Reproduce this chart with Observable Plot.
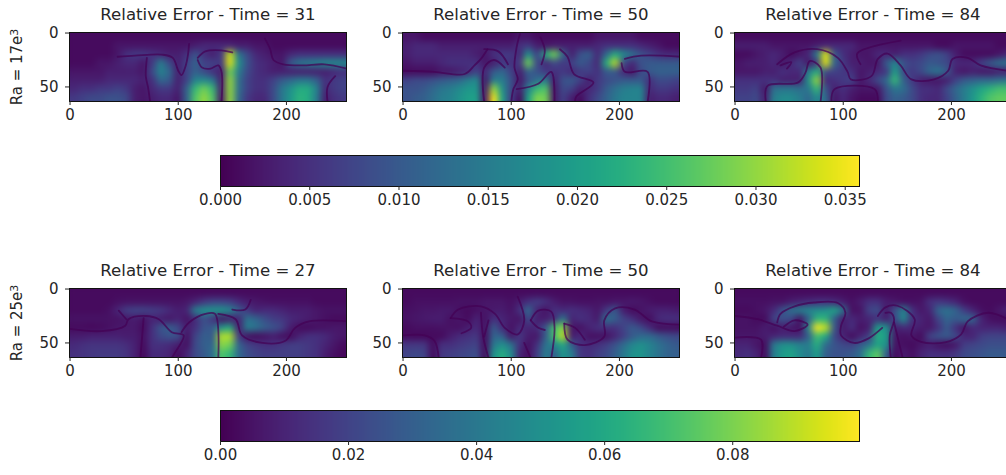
<!DOCTYPE html>
<html><head><meta charset="utf-8">
<script src="https://cdn.jsdelivr.net/npm/d3@7"></script>
<script src="https://cdn.jsdelivr.net/npm/@observablehq/plot@0.6"></script>
<style>
html,body{margin:0;padding:0;background:#fff;overflow:hidden}
#root{position:relative;width:1006px;height:475px;overflow:hidden}
#root svg{position:absolute;overflow:visible;background:transparent}
.soft image{filter:blur(2.2px)}
.zero path{filter:blur(0.6px)}
</style></head><body><div id="root"></div>
<script>
const errorA = [
[1,1,1,1,1,1,1,1,1,1,1,1,1,1,1,1,1,1,1,1,1,1,1,1,1,1,1,1,1,1,1,1],
[1,1,1,1,1,2,2,2,2,2,2,2,2,2,3,4,4,4,4,3,3,2,2,1,1,1,1,1,1,1,1,1],
[1,1,1,1,1,2,5,6,6,5,4,3,3,5,9,5,3,6,33,14,8,4,3,2,2,4,5,5,5,5,5,5],
[1,1,1,2,2,3,4,4,2,6,15,8,3,7,11,7,7,6,34,18,9,5,4,3,2,10,14,15,16,17,17,17],
[2,2,2,2,3,3,3,3,2,8,16,12,3,7,11,8,5,3,28,15,8,5,4,3,3,3,3,3,3,3,4,5],
[3,3,3,3,4,4,4,4,3,5,12,10,3,7,16,17,14,3,30,13,7,5,5,7,10,12,14,14,11,5,6,7],
[4,5,5,6,6,7,6,3,2,4,6,6,3,11,24,28,24,3,30,13,7,5,5,8,14,18,22,22,16,4,6,7],
[6,7,8,8,9,9,8,3,2,3,4,4,2,11,26,30,26,2,30,12,6,4,4,8,14,19,23,22,15,3,5,6]];
const errorB = [
[2,2,1,1,1,1,1,1,1,1,1,1,1,2,2,1,1,1,1,1,1,1,2,2,2,2,2,1,1,1,1,1],
[3,4,4,4,3,3,3,3,3,3,3,3,3,5,6,3,2,3,3,3,3,3,4,5,5,5,5,4,3,2,1,1],
[3,4,4,4,4,4,4,4,3,2,5,6,6,4,18,7,22,28,12,3,9,11,4,12,22,17,13,9,7,5,4,4],
[2,3,3,3,4,5,5,5,5,2,3,6,5,6,28,8,4,8,6,7,10,8,4,22,32,8,4,9,10,10,10,10],
[1,1,1,1,2,2,3,4,7,4,10,12,7,3,11,9,6,5,6,4,6,7,5,10,10,4,2,8,10,11,11,11],
[7,8,8,9,10,11,12,15,17,2,15,15,9,2,9,13,15,3,9,10,7,3,6,8,9,10,10,10,5,8,8,7],
[9,9,10,12,14,15,17,19,19,2,30,18,8,3,16,24,26,2,8,7,3,4,6,10,13,15,16,16,4,6,6,5],
[9,10,11,13,15,16,18,20,20,2,35,20,7,1,20,29,28,2,7,3,1,5,8,11,14,16,16,16,3,4,4,3]];
const errorC = [
[1,1,1,1,1,1,1,1,1,1,1,1,1,1,1,1,1,1,1,1,1,1,1,1,1,1,1,1,1,1,1,1],
[3,3,3,3,2,2,2,2,2,3,4,4,4,4,2,2,2,2,2,2,2,2,2,1,1,2,2,2,2,2,1,1],
[1,1,2,3,4,3,1,2,4,15,34,10,5,3,2,2,4,4,3,5,5,6,8,9,7,3,1,1,1,1,2,4],
[2,3,3,3,4,2,4,7,2,6,34,12,6,3,3,2,2,10,16,9,7,8,10,9,8,4,4,4,7,10,13,14],
[2,2,2,3,3,5,4,4,15,22,8,7,6,5,2,3,4,6,20,8,6,8,12,14,10,3,2,3,2,2,3,3],
[5,5,5,5,5,3,3,3,18,30,4,5,6,7,2,4,8,12,24,11,6,3,2,2,3,7,10,11,12,12,13,14],
[6,6,7,2,13,14,14,13,14,24,9,3,5,3,2,2,2,9,14,13,8,5,5,4,8,12,15,18,21,23,25,25],
[7,7,8,3,15,17,17,15,12,17,12,2,4,2,1,1,1,8,11,10,8,5,4,4,7,11,15,19,23,26,27,27]];
const errorD = [
[3,3,3,3,3,3,3,3,3,3,3,3,3,3,3,3,3,3,3,3,3,3,3,3,3,3,3,3,3,3,3,3],
[3,3,3,3,3,4,5,5,5,5,5,5,5,6,10,16,20,20,18,12,8,6,5,4,4,4,4,4,3,3,3,3],
[3,3,3,3,4,10,18,20,20,18,16,12,8,10,42,50,52,52,46,30,16,10,12,12,10,8,8,8,6,5,5,5],
[5,5,5,5,5,5,6,8,5,10,8,6,10,5,12,25,15,5,8,10,38,32,24,18,16,12,10,8,6,4,3,3],
[3,3,2,3,4,6,7,7,3,14,26,30,22,8,14,26,28,50,60,8,42,38,30,26,20,8,3,3,4,5,6,6],
[8,8,9,9,9,9,8,8,4,14,22,26,24,4,20,30,28,88,88,18,4,3,5,8,4,3,10,14,14,12,8,6],
[12,14,15,15,15,15,13,9,3,14,14,12,8,4,22,30,32,82,78,32,20,16,14,14,16,18,18,16,14,10,6,3],
[14,15,16,17,17,17,15,9,2,12,12,10,3,10,22,28,36,72,66,34,24,20,18,18,18,18,18,16,14,8,4,2]];
const errorE = [
[3,3,3,3,3,3,3,3,3,3,3,3,3,3,3,3,3,3,3,3,3,3,3,3,3,3,3,3,3,3,3,3],
[3,4,4,4,4,4,5,5,5,6,6,6,4,8,14,18,14,8,5,5,4,4,5,5,6,6,7,6,4,3,3,3],
[4,5,6,6,7,7,4,3,4,6,7,8,5,14,34,10,5,14,12,14,12,10,6,16,28,8,3,5,8,9,9,8],
[5,6,7,8,8,4,6,3,10,4,14,10,7,5,22,8,8,12,40,10,14,12,7,38,30,20,14,6,3,12,14,14],
[3,4,4,4,5,5,4,8,12,4,28,12,4,12,10,12,26,70,82,6,4,10,14,14,14,20,28,22,12,3,3,3],
[3,2,2,3,3,8,12,14,16,3,32,30,6,16,8,6,28,70,90,8,12,4,4,4,10,18,28,34,34,28,24,22],
[16,16,16,3,14,14,16,18,20,3,40,50,38,14,4,14,38,45,60,30,14,12,14,18,25,35,46,50,45,38,32,28],
[20,22,20,3,16,18,20,22,24,3,50,62,48,10,4,18,42,30,52,42,16,14,18,22,30,40,50,52,45,38,32,30]];
const errorF = [
[3,3,3,3,3,3,3,3,3,3,3,3,3,3,3,3,3,3,3,3,3,3,3,3,3,3,3,3,3,3,3,3],
[4,4,4,4,5,5,8,10,12,14,14,12,8,4,8,14,14,8,6,4,4,5,14,16,14,10,4,3,3,3,3,3],
[3,3,4,6,12,25,36,42,46,48,50,58,38,4,5,20,24,6,25,45,14,6,10,32,38,32,18,10,4,3,6,10],
[5,5,3,3,20,25,22,5,30,65,65,30,8,12,8,10,14,8,22,48,14,10,6,20,32,28,34,32,10,4,3,3],
[5,5,5,8,4,8,6,4,45,99,90,28,6,14,4,8,55,50,8,12,10,8,6,14,28,14,5,12,10,10,10,8],
[6,6,6,8,10,12,12,12,30,70,60,22,10,3,10,18,62,55,6,4,6,3,20,26,28,22,10,10,18,20,20,20],
[10,10,6,3,40,50,50,44,42,62,35,26,22,20,28,38,58,50,5,4,3,6,8,4,3,6,18,20,22,24,24,24],
[12,14,10,3,42,54,58,48,40,55,30,25,26,28,36,66,75,30,3,8,4,10,14,14,14,16,22,24,26,28,28,28]];

// Near-zero error curves, [column, row] pairs
const zeroA = [
[[71,23],[70,40],[72,50],[74,64]],
[[44,22],[60,21],[85,20],[95,23],[100,35],[103,39],[107,30],[109,20],[110,10]],
[[118,23],[125,17],[140,16],[150,18]],
[[118,25],[122,32],[130,33],[137,30],[140,36],[140,64]],
[[180,5],[185,15],[188,25],[197,29],[215,30],[235,29],[256,33]],
[[238,64],[238,50],[245,40]]];
const zeroB = [
[[0,35],[29,36],[57,38],[66,30],[72,24],[78,15]],
[[75,15],[88,17],[97,29]],
[[75,64],[75,32],[84,25],[94,32]],
[[100,64],[102,52],[106,43],[103,32],[105,13],[108,1]],
[[105,52],[125,47],[137,36],[140,64]],
[[128,29],[131,16],[127,4]],
[[145,15],[152,22],[158,38],[176,46],[160,59],[159,64]],
[[202,28],[205,36],[226,36],[226,64]],
[[205,24],[220,21],[257,22]]];
const zeroC = [
[[28.5,64],[30,49],[58,46],[65,37],[69,26],[79,32],[79,64]],
[[39,29],[55,18],[76,15],[95,23],[104,36],[107,43],[126,40],[132,24],[141,19],[153,30],[163,43],[184,43],[197,35],[201,24],[215,23],[227,30],[252,35]],
[[42,30],[52,27],[48,33]],
[[89,64],[92,52],[129,52],[132,64]],
[[116,29],[113,19],[153,7]]];
const zeroD = [
[[0,37],[29,39],[51,34],[54,28],[70,25],[82,28],[94,40],[105,43],[97,59],[94,64]],
[[45,20],[52,28]],
[[68,27],[65,64]],
[[103,40],[110,31],[125,23],[134,23],[137,64]],
[[137,23],[153,28],[159,43],[178,50],[199,48],[208,36],[221,30],[257,30]],
[[150,19],[162,19],[167,10]]];
const zeroE = [
[[44,27],[51,19],[72,16],[85,23],[94,36],[106,42],[112,29],[106,7]],
[[44,27],[60,30],[63,36],[54,41]],
[[0,43],[20,43],[29,48],[33,64]],
[[72,22],[74,44],[79,64]],
[[79,29],[75,44]],
[[118,29],[125,20],[137,21],[140,36],[137,64]],
[[118,29],[125,36],[131,38]],
[[149,32],[152,47],[168,52],[186,44],[186,29],[196,18],[214,19],[230,30],[257,33]],
[[149,32],[159,36],[168,47]],
[[112,50],[118,64]]];
const zeroF = [
[[39,31],[42,23],[55,16],[73,12.5],[95,13],[102,22],[98,34],[98,43],[110,50],[123,46],[136,36]],
[[0,25],[21,28],[39,34],[55,39],[67,33],[55,29],[45,35]],
[[132,25],[139,17],[150,15.5],[166,28],[163,43],[172,49],[194,49.5],[209,42],[215,30],[234,22],[252,28]],
[[24,64],[24,47],[0,45]],
[[139,22],[144,22],[147,28],[143,43],[144,64]],
[[147,31],[153,56],[155,64]]];

const times = [31, 50, 84, 27, 50, 84];
const rayleigh = ["17", "25"];
const xTicks = [0, 100, 200];
const yTicks = [0, 50];
const maxError = [0.0358, 0.0998];
const barTicks = [
  [0, 0.005, 0.01, 0.015, 0.02, 0.025, 0.03, 0.035],
  [0, 0.02, 0.04, 0.06, 0.08]
];
const barDigits = [3, 2];

const FONT = "'DejaVu Sans'", INK = "#262626", FS = 15, TFS = 16.6;
const root = document.getElementById("root");
const fields = [errorA, errorB, errorC, errorD, errorE, errorF];
const curves = [zeroA, zeroB, zeroC, zeroD, zeroE, zeroF];
const lefts = [69, 402, 734], tops = [32, 288];
const ML = 60, MR = 30, MT = 32, MB = 30, PW = 277, PH = 69;
fields.forEach(f => { if (f.length !== 8 || f.some(r => r.length !== 32)) throw new Error("bad grid " + f.map(r => r.length)); });

function place(svg, left, top) {
  svg.style.left = left + "px"; svg.style.top = top + "px"; root.appendChild(svg);
}
const baseStyle = {fontFamily: FONT, fontSize: FS + "px", color: INK, background: "transparent"};

fields.forEach((field, k) => {
  const row = Math.floor(k / 3), col = k % 3;
  const color = {type: "linear", scheme: "viridis", domain: [0, maxError[row]]};
  const rasterOptions = {width: 32, height: 8, x1: -0.5, x2: 255.5, y1: -0.5, y2: 63.5, fill: d => d / 1000, imageRendering: "auto", clip: true};
  const marks = [
    Plot.raster(field.flat(), rasterOptions),
    Plot.raster(field.flat(), {...rasterOptions, className: "soft"}),
    ...curves[k].map(c => Plot.line(c, {x: d => d[0], y: d => d[1], stroke: () => 0, strokeWidth: 1.8, strokeOpacity: 0.72, curve: "catmull-rom", clip: true, className: "zero"})),
    Plot.frame({stroke: "#111"}),
    Plot.axisX({ticks: xTicks, tickSize: 4, label: null, tickPadding: 4, fontSize: FS, anchor: "bottom"}),
    Plot.axisY({ticks: yTicks, tickSize: 4, label: null, tickPadding: 7, fontSize: FS, anchor: "left"}),
    Plot.text([`Relative Error - Time = ${times[k]}`], {frameAnchor: "top", dy: -12.5, lineAnchor: "bottom", fontSize: TFS, fill: INK})
  ];
  if (col === 0) marks.push(Plot.text([`Ra = ${rayleigh[row]}e`], {frameAnchor: "left", textAnchor: "middle", dx: -52, rotate: -90, fontSize: FS, fill: INK, className: "ralabel"}));
  const svg = Plot.plot({
    width: ML + PW + MR, height: MT + PH + MB,
    marginLeft: ML, marginRight: MR, marginTop: MT, marginBottom: MB,
    x: {domain: [-0.5, 255.5]}, y: {domain: [-0.5, 63.5], reverse: true},
    color, style: baseStyle, marks
  });
  // Real superscript for the exponent
  svg.querySelectorAll(".ralabel text").forEach(t => {
    const s = document.createElementNS("http://www.w3.org/2000/svg", "tspan");
    s.setAttribute("dy", "-0.4em"); s.setAttribute("font-size", "11"); s.textContent = "3";
    t.appendChild(s);
  });
  place(svg, lefts[col] - ML, tops[row] - MT);
});

const barLeft = 220, barWidth = 639, barTops = [155, 410], barHeight = 31;
maxError.forEach((max, row) => {
  const ramp = d3.range(256).map(i => (i + 0.5) / 256 * max);
  const fmt = d3.format(`.${barDigits[row]}f`);
  const svg = Plot.plot({
    width: 30 + barWidth + 30, height: barHeight + 30,
    marginLeft: 30, marginRight: 30, marginTop: 0, marginBottom: 30,
    x: {domain: [0, max]}, y: {domain: [0, 1], axis: null},
    color: {type: "linear", scheme: "viridis", domain: [0, max]},
    style: baseStyle,
    marks: [
      Plot.raster(ramp, {width: 256, height: 1, x1: 0, x2: max, y1: 0, y2: 1, fill: d => d, imageRendering: "auto"}),
      Plot.frame({stroke: "#111"}),
      Plot.axisX({ticks: barTicks[row], tickFormat: fmt, tickSize: 4, tickPadding: 4, label: null, fontSize: FS, anchor: "bottom"})
    ]
  });
  place(svg, barLeft - 30, barTops[row]);
});
</script></body></html>
